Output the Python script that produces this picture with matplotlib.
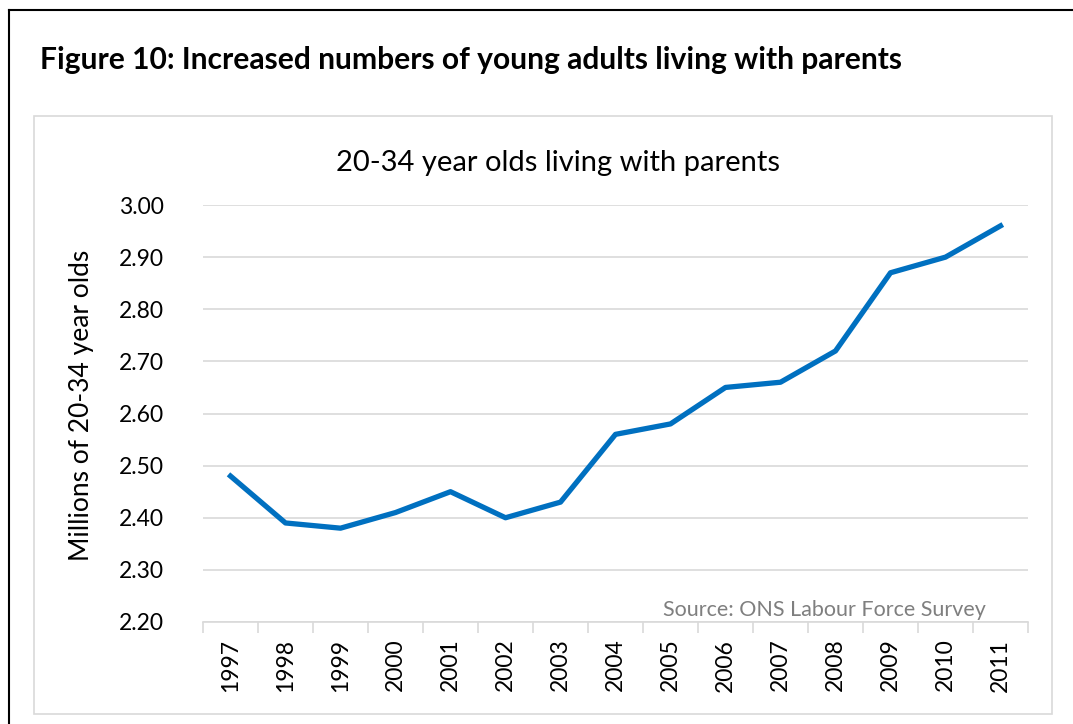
import numpy as np
import matplotlib.pyplot as plt
from matplotlib.lines import Line2D
from matplotlib.patches import Rectangle

years = ['1997', '1998', '1999', '2000', '2001', '2002', '2003', '2004',
         '2005', '2006', '2007', '2008', '2009', '2010', '2011']
living_with_parents = [2.48, 2.39, 2.38, 2.41, 2.45, 2.40, 2.43, 2.56,
                       2.58, 2.65, 2.66, 2.72, 2.87, 2.90, 2.96]

plt.rcParams['font.family'] = ['Lato', 'DejaVu Sans']

W, H = 1073, 724
fig = plt.figure(figsize=(W / 100, H / 100), dpi=100)

# page frame (runs off the right and bottom)
fig.add_artist(Line2D([9 / W, 1], [1 - 10 / H, 1 - 10 / H], color='black', lw=1.5,
                      transform=fig.transFigure))
fig.add_artist(Line2D([9 / W, 9 / W], [1 - 10 / H, 0], color='black', lw=1.5,
                      transform=fig.transFigure))
# chart frame
fig.add_artist(Rectangle((34 / W, 1 - 714 / H), (1052 - 34) / W, (714 - 116) / H,
                         fill=False, edgecolor='#d9d9d9', lw=1.2,
                         transform=fig.transFigure))

fig.text(40 / W, 1 - 60 / H, 'Figure 10: Increased numbers of young adults living with parents',
         fontsize=21.6, fontweight='bold', va='center', ha='left')
fig.text(558 / W, 1 - 163 / H, '20-34 year olds living with parents',
         fontsize=21, va='center', ha='center')

ax = fig.add_axes([203 / W, 1 - 622 / H, (1028 - 203) / W, (622 - 205) / H])
x = np.arange(len(years))
ax.plot(x, living_with_parents, color='#0070c0', lw=3.8, solid_joinstyle='round')

ax.set_xlim(-0.5, len(years) - 0.5)
ax.set_ylim(2.2, 3.0)
ax.set_yticks(np.arange(2.2, 3.001, 0.1))
ax.set_yticklabels([f'{v:.2f}' for v in np.arange(2.2, 3.001, 0.1)], fontsize=16.5)
ax.tick_params(axis='y', length=0, pad=28)
ax.grid(axis='y', color='#d9d9d9', lw=1.2)
ax.set_axisbelow(True)

# category boundaries as tick marks, year labels centred between them
ax.set_xticks(np.arange(-0.5, len(years)))
ax.set_xticklabels([])
ax.tick_params(axis='x', which='major', length=8, color='#d9d9d9', width=1.2)
ax.set_xticks(x, minor=True)
ax.set_xticklabels(years, minor=True, rotation=90, fontsize=16.5)
ax.tick_params(axis='x', which='minor', length=0, pad=12)

for side in ['top', 'right', 'left']:
    ax.spines[side].set_visible(False)
ax.spines['bottom'].set_color('#d9d9d9')
ax.spines['bottom'].set_linewidth(1.2)

ax.set_ylabel('Millions of 20-34 year olds', fontsize=19, va='center')
ax.yaxis.set_label_coords(-0.147, 0.52)
ax.text(0.949, 0.005, 'Source: ONS Labour Force Survey', transform=ax.transAxes,
        ha='right', va='bottom', fontsize=15.5, color='#7f7f7f')

fig.savefig('out.png', dpi=100)
